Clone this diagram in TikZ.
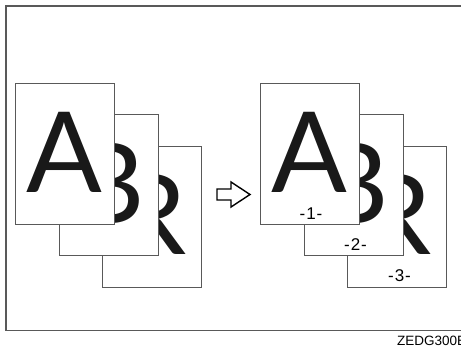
\documentclass[tikz,border=0pt]{standalone}
\usepackage{fontspec}
\setmainfont{Liberation Sans}
\newfontfamily\bigfont{Lato}
\newfontfamily\numfont[LetterSpace=6]{Liberation Sans}
\begin{document}
\begin{tikzpicture}[x=1pt,y=-1pt,
  page/.style={draw=black!65,line width=0.9pt,fill=white,minimum width=99pt,minimum height=141pt,inner sep=0pt,anchor=north west},
  bigletter/.style={font=\bigfont\fontsize{112}{112}\selectfont,text=black!90,inner sep=0pt,anchor=base},
  num/.style={font=\numfont\fontsize{17}{17}\selectfont,inner sep=0pt,anchor=base},
  frame/.style={draw=black!65,line width=1.6pt}]
\useasboundingbox (0,0) rectangle (461,347);
\draw[frame] (470,6) -- (6,6) -- (6,330.5) -- (470,330.5);
% left group
\node[page] (lR) at (102,146) {};
\node[bigletter] (lRt) at (151.5,255) {R};
\node[page] (lB) at (59,114.5) {};
\node[bigletter] (lBt) at (108.5,223.5) {B};
\node[page] (lA) at (15,83) {};
\node[bigletter] (lAt) at (64.5,193) {A};
% arrow
\draw[line width=1.4pt,line join=miter] (217,189) -- (231,189) -- (231,182) -- (250,194.5) -- (231,207) -- (231,200) -- (217,200) -- cycle;
% right group
\node[page] (rR) at (347,146) {};
\node[bigletter] (rRt) at (396.5,255) {R};
\node[num] (n3) at (399.5,282) {-3-};
\node[page] (rB) at (303.5,114.5) {};
\node[bigletter] (rBt) at (353,223.5) {B};
\node[num] (n2) at (355.5,251) {-2-};
\node[page] (rA) at (260,83) {};
\node[bigletter] (rAt) at (309.5,193) {A};
\node[num] (n1) at (311,219.5) {-1-};
% code
\node[font=\fontsize{13.5}{13.5}\selectfont,inner sep=0pt,anchor=base west] (code) at (397,346) {ZEDG300E};
\end{tikzpicture}
\end{document}
